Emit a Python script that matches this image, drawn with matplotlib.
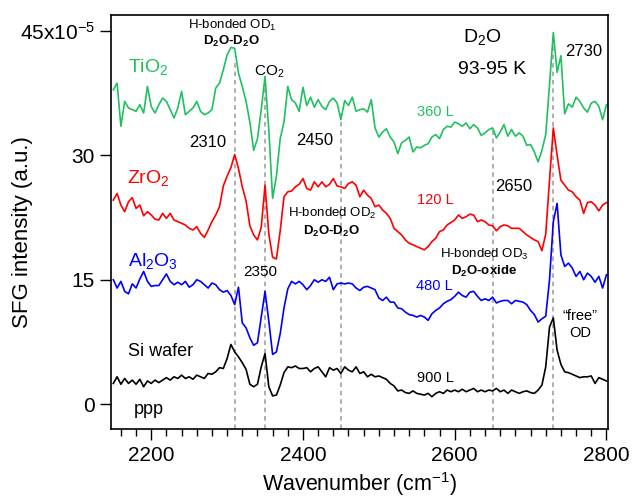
import numpy as np
import matplotlib
matplotlib.use("Agg")
import matplotlib.pyplot as plt
from matplotlib.ticker import MultipleLocator

plt.rcParams['font.family'] = ['Liberation Sans', 'DejaVu Sans']
plt.rcParams['mathtext.fontset'] = 'custom'
plt.rcParams['mathtext.rm'] = 'Liberation Sans'
plt.rcParams['mathtext.it'] = 'Liberation Sans:italic'
plt.rcParams['mathtext.bf'] = 'Liberation Sans:bold'
plt.rcParams['mathtext.default'] = 'regular'

# wavenumber grid (cm-1), 5 cm-1 steps from 2150 to 2800
wavenumber = np.arange(2150, 2805, 5)

# spectra, offset as in the figure (x1e-5 a.u.)
tio2 = [37.9, 38.7, 33.5, 36.5, 35.7, 35.5, 35.3, 36.1, 35.1, 38.3,
        35.9, 35.1, 36.1, 36.9, 36.5, 35.5, 34.5, 35.7, 37.7, 34.9,
        35.3, 35.7, 36.5, 35.3, 34.9, 35.1, 35.5, 38.1, 38.7, 40.3,
        42.1, 43.0, 42.9, 39.9, 38.3, 36.5, 34.0, 30.6, 32.0, 35.5,
        39.5, 33.0, 24.8, 27.5, 32.0, 34.0, 38.3, 36.7, 36.3, 35.3,
        38.2, 36.0, 37.0, 35.8, 36.7, 35.9, 35.5, 36.5, 36.9, 36.3,
        34.3, 36.6, 36.0, 37.0, 35.3, 35.5, 35.6, 35.2, 36.7, 33.3,
        32.2, 32.8, 33.2, 32.2, 31.6, 30.2, 31.5, 31.8, 32.2, 30.4,
        31.0, 30.9, 31.2, 31.4, 32.2, 32.5, 32.0, 33.1, 33.5, 33.4,
        34.0, 33.8, 33.5, 33.9, 33.2, 33.7, 33.3, 32.4, 32.7, 33.1,
        33.3, 32.1, 32.8, 33.7, 32.3, 33.1, 32.3, 32.7, 32.3, 31.2,
        31.3, 30.4, 29.2, 30.6, 32.5, 38.5, 44.8, 40.0, 42.0, 35.0,
        36.2, 35.8, 37.0, 36.5, 35.7, 35.2, 36.3, 36.5, 35.9, 34.3,
        36.1]
zro2 = [24.6, 25.4, 24.0, 23.2, 24.4, 24.9, 23.6, 24.0, 22.7, 23.2,
        22.8, 22.3, 22.2, 23.0, 22.4, 23.0, 22.2, 22.0, 21.8, 21.6,
        21.2, 21.0, 21.4, 20.6, 20.1, 21.0, 22.0, 22.8, 23.8, 26.3,
        27.5, 28.5, 30.1, 28.4, 26.2, 24.5, 21.5, 20.4, 19.8, 21.3,
        26.4, 20.5, 17.7, 17.5, 20.9, 25.0, 25.6, 25.7, 26.2, 26.5,
        27.2, 26.0, 25.8, 26.8, 26.2, 26.8, 26.2, 26.5, 27.2, 26.3,
        26.2, 26.0, 26.6, 26.8, 26.4, 25.0, 25.8, 25.2, 24.8, 23.8,
        24.0, 23.4, 23.0, 22.4, 21.2, 20.8, 20.4, 19.8, 19.4, 19.2,
        19.0, 18.8, 18.6, 19.0, 19.6, 20.0, 20.8, 21.0, 21.6, 21.9,
        22.2, 22.8, 22.4, 22.6, 22.9, 22.8, 22.0, 22.2, 22.0, 21.6,
        21.5, 20.9, 21.4, 21.6, 21.5, 21.2, 21.2, 21.2, 20.8, 20.4,
        20.1, 19.8, 19.6, 18.5, 20.5, 27.0, 33.3, 30.0, 27.0, 26.4,
        25.8, 25.6, 25.0, 24.6, 23.0, 24.3, 24.4, 24.0, 23.3, 24.0,
        24.3]
al2o3 = [15.0, 14.0, 14.8, 13.6, 13.3, 14.5, 14.0, 15.1, 16.0, 14.8,
         14.2, 14.3, 14.3, 15.0, 15.7, 14.8, 14.4, 14.7, 14.4, 14.8,
         14.1, 14.4, 15.0, 14.8, 14.4, 14.0, 14.6, 14.4, 13.8, 13.5,
         13.7, 13.1, 12.0, 14.1, 9.8, 9.2, 8.0, 7.1, 7.4, 10.5,
         13.6, 10.0, 6.0, 6.3, 8.5, 11.6, 13.9, 14.8, 14.5, 14.8,
         14.4, 13.8, 14.3, 15.0, 14.7, 15.0, 14.8, 15.3, 13.8, 14.5,
         14.6, 14.5, 14.6, 14.5, 14.0, 13.7, 14.1, 14.2, 14.0, 13.8,
         12.8, 12.5, 12.9, 12.3, 12.3, 11.6, 11.5, 11.1, 10.8, 10.7,
         10.5, 10.7, 10.5, 10.1, 10.9, 11.3, 11.6, 12.1, 12.4, 12.6,
         13.0, 13.5, 13.1, 12.9, 13.5, 13.6, 13.0, 12.5, 12.7, 12.5,
         12.9, 12.2, 12.4, 12.5, 12.5, 12.1, 12.5, 12.4, 12.3, 12.0,
         11.3, 10.8, 9.9, 10.3, 10.6, 15.0, 22.0, 24.2, 18.0, 16.6,
         17.0, 16.4, 15.4, 16.0, 15.0, 15.8, 15.4, 14.7, 15.4, 14.0,
         15.6]
si_wafer = [2.5, 3.3, 2.4, 3.1, 2.5, 2.9, 2.4, 3.0, 2.1, 2.8,
            2.5, 2.9, 2.6, 2.9, 3.2, 2.9, 3.3, 3.1, 3.5, 3.1,
            3.3, 3.0, 3.5, 3.3, 3.1, 3.7, 3.6, 3.9, 4.4, 4.3,
            5.5, 7.2, 6.3, 5.7, 5.0, 4.2, 2.4, 2.1, 2.4, 4.5,
            6.1, 2.1, 1.0, 1.1, 2.3, 3.8, 4.5, 4.4, 4.6, 4.3,
            4.3, 4.4, 3.9, 4.3, 4.5, 3.9, 3.3, 4.4, 4.1, 4.3,
            3.7, 4.5, 4.1, 3.9, 4.5, 3.7, 3.9, 3.3, 3.6, 3.3,
            3.4, 3.2, 3.0, 2.5, 2.2, 1.6, 1.7, 1.4, 1.3, 1.6,
            1.3, 1.2, 1.1, 1.3, 0.9, 1.3, 1.5, 1.3, 1.7, 1.5,
            1.7, 1.5, 1.8, 1.5, 1.7, 1.9, 1.5, 1.7, 1.5, 1.7,
            1.6, 1.9, 1.5, 1.7, 1.3, 1.7, 1.5, 1.3, 1.5, 1.6,
            1.4, 1.3, 1.7, 2.3, 4.5, 9.3, 10.4, 6.5, 4.8, 3.9,
            3.8, 3.6, 3.4, 3.2, 3.3, 3.3, 3.4, 2.5, 3.2, 3.0,
            2.8]

# guide lines: position and top end
guide_pos = [2310, 2350, 2450, 2650, 2730]
guide_top = [41.1, 38.7, 35.1, 33.4, 43.5]

green = '#20c060'
fig = plt.figure(figsize=(6.33, 5.03), dpi=100)
ax = fig.add_axes([0.1754, 0.147, 0.785, 0.823])

ax.vlines(guide_pos, -3, guide_top, colors='#999999', linestyles=(0, (3, 2.5)), lw=1.1)

ax.plot(wavenumber, tio2, color=green, lw=1.2)
ax.plot(wavenumber, zro2, color='#ff0000', lw=1.2)
ax.plot(wavenumber, al2o3, color='#0000ff', lw=1.2)
ax.plot(wavenumber, si_wafer, color='black', lw=1.2)

ax.set_xlim(2147, 2802)
ax.set_ylim(-3, 46.9)
ax.set_yticks([0, 15, 30, 45])
ax.set_yticklabels(['0', '15', '30', r'45x10$^{-5}$'])
ax.set_xticks([2200, 2400, 2600, 2800])
ax.xaxis.set_minor_locator(MultipleLocator(20))
ax.tick_params(axis='both', which='major', direction='out', length=8, width=1, labelsize=15)
ax.tick_params(axis='x', which='major', pad=4)
ax.tick_params(axis='x', which='minor', direction='out', length=5, width=1)
for s in ax.spines.values():
    s.set_linewidth(1.2)

ax.set_xlabel('Wavenumber (cm$^{-1}$)', fontsize=15.5)
ax.set_ylabel('SFG intensity (a.u.)', fontsize=16)
ax.xaxis.set_label_coords(0.5, -0.1)
ax.yaxis.set_label_coords(-0.158, 0.476)

# sample labels
ax.text(2169, 40.1, 'TiO$_2$', color=green, fontsize=14, va='baseline')
ax.text(2168, 26.6, 'ZrO$_2$', color='#ff0000', fontsize=14, va='baseline')
ax.text(2170, 16.6, 'Al$_2$O$_3$', color='#0000ff', fontsize=14, va='baseline')
ax.text(2170, 5.8, 'Si wafer', color='black', fontsize=13, va='baseline')
ax.text(2177, -1.2, 'ppp', color='black', fontsize=13, va='baseline')

# peak labels
ax.text(2307, 45.2, 'H-bonded OD$_1$', fontsize=9.5, ha='center', va='baseline')
ax.text(2306, 43.3, r'D$_\mathbf{2}$O-D$_\mathbf{2}$O', fontsize=9.5, fontweight='bold', ha='center', va='baseline')
ax.text(2356, 39.6, 'CO$_2$', fontsize=11, ha='center', va='baseline')
ax.text(2274, 31.0, '2310', fontsize=12, ha='center', va='baseline')
ax.text(2415, 31.2, '2450', fontsize=12, ha='center', va='baseline')
ax.text(2344, 15.4, '2350', fontsize=11, ha='center', va='baseline')
ax.text(2637, 43.6, 'D$_2$O', fontsize=14, ha='center', va='baseline')
ax.text(2649, 39.8, '93-95 K', fontsize=14, ha='center', va='baseline')
ax.text(2770, 42.0, '2730', fontsize=12, ha='center', va='baseline')
ax.text(2678, 25.7, '2650', fontsize=12, ha='center', va='baseline')
ax.text(2438, 22.6, 'H-bonded OD$_2$', fontsize=9.5, ha='center', va='baseline')
ax.text(2437, 20.4, r'D$_\mathbf{2}$O-D$_\mathbf{2}$O', fontsize=9.5, fontweight='bold', ha='center', va='baseline')
ax.text(2639, 17.6, 'H-bonded OD$_3$', fontsize=9.5, ha='center', va='baseline')
ax.text(2639, 15.6, r'D$_\mathbf{2}$O-oxide', fontsize=9.5, fontweight='bold', ha='center', va='baseline')
ax.text(2765, 10.1, '\u201cfree\u201d', fontsize=10.5, ha='center', va='baseline')
ax.text(2765, 8.1, 'OD', fontsize=10.5, ha='center', va='baseline')

# exposure labels
ax.text(2574, 34.7, '360 L', color=green, fontsize=10.5, ha='center', va='baseline')
ax.text(2574, 24.1, '120 L', color='#ff0000', fontsize=10.5, ha='center', va='baseline')
ax.text(2573, 13.75, '480 L', color='#0000ff', fontsize=10.5, ha='center', va='baseline')
ax.text(2574, 2.7, '900 L', color='black', fontsize=10.5, ha='center', va='baseline')

fig.savefig('out.png', dpi=100)
